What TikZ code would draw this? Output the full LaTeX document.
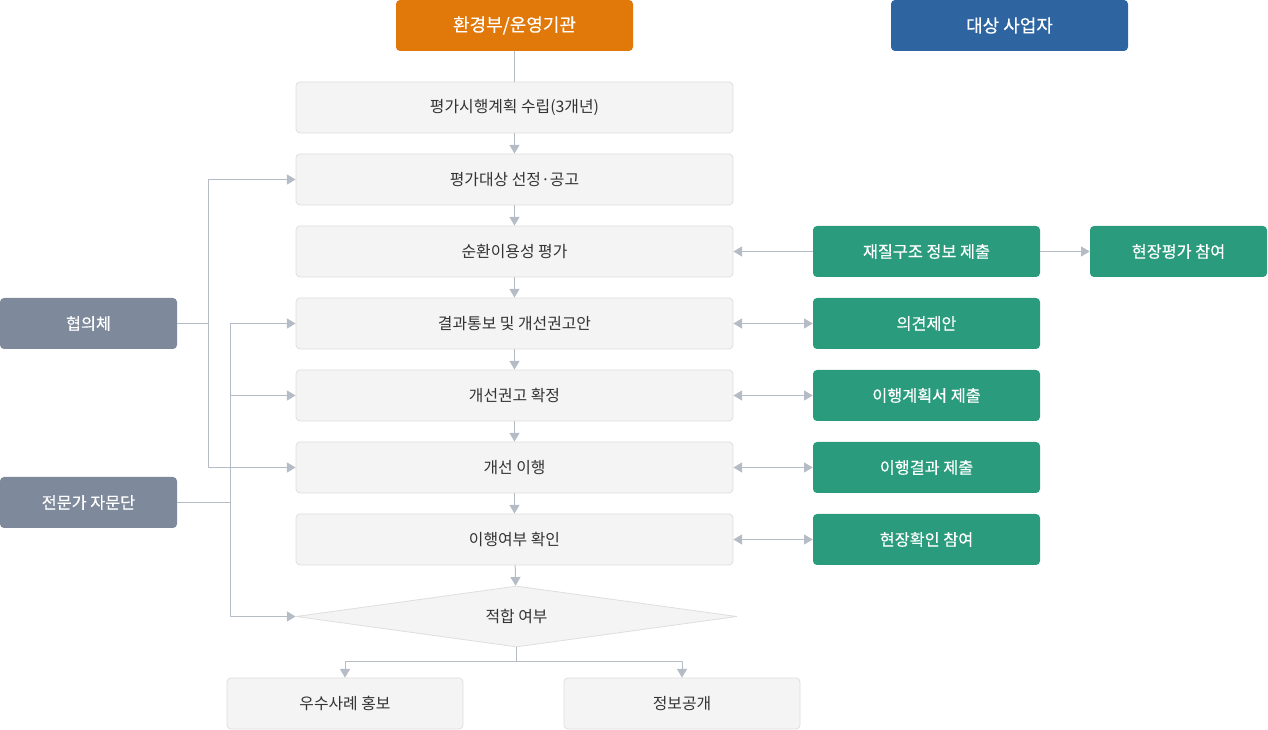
\documentclass[tikz,border=0pt]{standalone}
\usepackage{fontspec}
\setmainfont{Noto Sans CJK KR}
\newfontfamily\medfont{Noto Sans CJK KR}[FakeBold=0.35]
\usetikzlibrary{arrows.meta,shapes.geometric}
\definecolor{orangeH}{HTML}{E0780A}
\definecolor{blueH}{HTML}{2E65A0}
\definecolor{greenB}{HTML}{2A9C7D}
\definecolor{slateB}{HTML}{7E8A9B}
\definecolor{lineC}{HTML}{B5BCC6}
\definecolor{boxF}{HTML}{F4F4F4}
\definecolor{boxD}{HTML}{DEDEDE}
\definecolor{txtC}{HTML}{333333}
\tikzset{
  stepbox/.style={draw=boxD, fill=boxF, rounded corners=3pt, minimum width=327.75pt, minimum height=38.25pt, text=txtC, font=\fontsize{11.9}{14}\selectfont, line width=0.6pt},
  headbox/.style={rounded corners=3pt, minimum width=177.75pt, minimum height=38.25pt, text=white, font=\medfont\fontsize{13.5}{16}\selectfont},
  actbox/.style={fill=greenB, rounded corners=3pt, minimum width=170.25pt, minimum height=38.25pt, text=white, font=\medfont\fontsize{12.2}{14}\selectfont},
  sidebox/.style={fill=slateB, rounded corners=3pt, minimum width=132.75pt, minimum height=38.25pt, text=white, font=\medfont\fontsize{12.2}{14}\selectfont},
  link/.style={draw=lineC, line width=0.75pt},
  arr/.style={link, -{Triangle[width=7.5pt,length=6.5pt]}},
  arrr/.style={link, {Triangle[width=7.5pt,length=6.5pt]}-{Triangle[width=7.5pt,length=6.5pt]}},
}
\begin{document}
\begin{tikzpicture}[x=0.75pt, y=-0.75pt, line join=round]
\useasboundingbox (0,0) rectangle (1268,730);
\def\cx{514.5} \def\gx{926.5}
% 머리
\node[headbox, fill=orangeH] (moe) at (\cx,25.5) {환경부/운영기관};
\node[headbox, fill=blueH] (biz) at (1009.5,25.5) {대상 사업자};
% 가운데 단계
\node[stepbox] (plan) at (\cx,107.5) {평가시행계획 수립(3개년)};
\node[stepbox] (select) at (\cx,179.5) {평가대상 선정·공고};
\node[stepbox] (eval) at (\cx,251.5) {순환이용성 평가};
\node[stepbox] (notice) at (\cx,323.5) {결과통보 및 개선권고안};
\node[stepbox] (confirm) at (\cx,395.5) {개선권고 확정};
\node[stepbox] (improve) at (\cx,467.5) {개선 이행};
\node[stepbox] (check) at (\cx,539.5) {이행여부 확인};
\node[diamond, aspect=7.2, draw=boxD, fill=boxF, line width=0.6pt, inner sep=0pt, minimum width=330.75pt, minimum height=45.75pt, text=txtC, font=\fontsize{11.9}{14}\selectfont] (fit) at (516.5,616.5) {적합 여부};
\node[stepbox, minimum width=177pt] (best) at (345,703.5) {우수사례 홍보};
\node[stepbox, minimum width=177pt] (open) at (682,703.5) {정보공개};
% 사업자
\node[actbox] (submit) at (\gx,251.5) {재질구조 정보 제출};
\node[actbox, minimum width=132.75pt] (site) at (1178.5,251.5) {현장평가 참여};
\node[actbox] (opinion) at (\gx,323.5) {의견제안};
\node[actbox] (plansub) at (\gx,395.5) {이행계획서 제출};
\node[actbox] (result) at (\gx,467.5) {이행결과 제출};
\node[actbox] (sitechk) at (\gx,539.5) {현장확인 참여};
% 왼쪽
\node[sidebox] (council) at (88.5,323.5) {협의체};
\node[sidebox] (expert) at (88.5,502.5) {전문가 자문단};
% 연결
\draw[link] (moe) -- (plan);
\foreach \a/\b in {plan/select, select/eval, eval/notice, notice/confirm, confirm/improve, improve/check, check/fit}
  \draw[arr] (\a) -- (\b);
\draw[arr] (submit) -- (eval);
\draw[arr] (submit) -- (site);
\foreach \a/\b in {notice/opinion, confirm/plansub, improve/result, check/sitechk}
  \draw[arrr] (\a) -- (\b);
\coordinate (jc) at (208,323.5);
\coordinate (je) at (230,502.5);
\draw[link] (council) -- (jc);
\draw[arr] (jc) |- (select.west);
\draw[arr] (jc) |- (improve.west);
\draw[link] (expert) -- (je);
\foreach \t in {notice, confirm, fit}
  \draw[arr] (je) |- (\t.west);
\coordinate (jf) at (516.5,662);
\draw[link] (fit.south) -- (jf);
\draw[arr] (jf) -| (best.north);
\draw[arr] (jf) -| (open.north);
\end{tikzpicture}
\end{document}
